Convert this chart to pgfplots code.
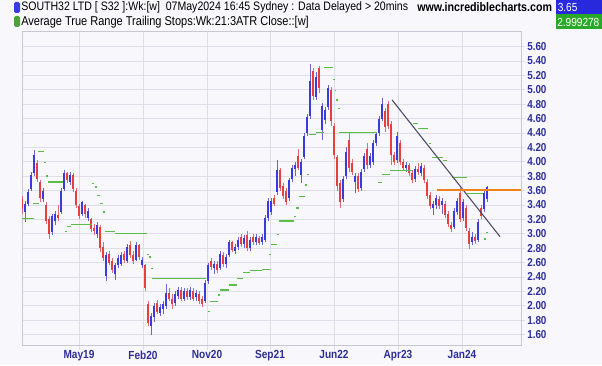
\documentclass[border=0pt]{standalone}
\usepackage{pgfplots}
\usepackage{pgfplotstable}
\pgfplotsset{compat=1.18}
\usepackage{fontspec}
\setmainfont{Liberation Sans}[FakeStretch=0.86]
\definecolor{pagebg}{RGB}{248,248,252}
\definecolor{gridc}{RGB}{222,222,232}
\definecolor{borderc}{RGB}{200,200,212}
\definecolor{navy}{RGB}{45,45,150}
\definecolor{cblue}{RGB}{58,58,225}
\definecolor{cred}{RGB}{232,62,62}
\definecolor{wblue}{RGB}{110,100,200}
\definecolor{wred}{RGB}{215,110,120}
\definecolor{stopg}{RGB}{90,190,70}
\definecolor{trendc}{RGB}{75,75,105}
\definecolor{orng}{RGB}{240,130,30}
\definecolor{boxblue}{RGB}{40,40,220}
\definecolor{boxgreen}{RGB}{40,170,40}

\pgfplotstableread{
x o h l c
25 3.30 3.45 3.16 3.42
28 3.42 3.62 3.38 3.58
31 3.62 3.86 3.60 3.82
34 3.85 4.16 3.80 4.10
43 3.48 3.64 3.44 3.60
52 3.03 3.28 2.98 3.24
55 3.18 3.32 3.12 3.28
61 3.30 3.64 3.28 3.60
64 3.62 3.88 3.60 3.84
70 3.72 3.86 3.68 3.82
82 3.28 3.46 3.25 3.44
88 3.22 3.36 3.18 3.32
97 3.00 3.16 2.94 3.12
106 2.42 2.74 2.34 2.70
115 2.44 2.60 2.36 2.56
118 2.56 2.70 2.52 2.66
121 2.58 2.74 2.55 2.70
127 2.62 2.86 2.60 2.82
136 2.64 2.88 2.62 2.84
142 2.56 2.68 2.52 2.64
151 1.72 1.90 1.60 1.86
154 1.84 2.04 1.78 2.00
160 1.90 2.02 1.86 1.98
163 1.96 2.06 1.88 2.02
166 2.00 2.30 1.96 2.18
175 2.04 2.20 2.00 2.16
178 2.14 2.26 2.10 2.22
184 2.10 2.24 2.06 2.20
190 2.12 2.26 2.08 2.22
196 2.12 2.22 2.06 2.18
205 2.06 2.36 2.04 2.32
208 2.34 2.60 2.30 2.56
214 2.52 2.62 2.44 2.58
220 2.52 2.76 2.50 2.72
226 2.58 2.72 2.52 2.68
229 2.70 2.92 2.68 2.88
235 2.76 2.86 2.72 2.82
238 2.82 2.96 2.78 2.92
244 2.86 2.98 2.80 2.94
250 2.80 2.96 2.76 2.92
256 2.88 3.00 2.84 2.96
262 2.88 3.00 2.84 2.96
265 2.92 3.26 2.88 3.22
268 3.22 3.50 3.18 3.46
271 3.30 3.50 3.26 3.46
277 3.58 4.03 3.54 3.88
289 3.50 3.78 3.46 3.74
292 3.76 3.96 3.72 3.92
295 3.90 4.00 3.80 3.96
301 3.82 4.04 3.70 4.00
304 4.06 4.40 4.04 4.36
307 4.40 4.66 4.36 4.62
310 4.64 5.36 4.60 5.12
316 4.90 5.24 4.86 5.18
322 4.44 4.82 4.30 4.78
325 4.58 4.76 4.52 4.72
328 4.76 5.06 4.72 5.02
343 3.48 3.80 3.44 3.76
346 3.80 4.20 3.76 4.14
355 3.72 3.84 3.56 3.80
361 3.64 3.90 3.60 3.86
364 3.90 4.12 3.86 4.08
370 3.96 4.12 3.92 4.08
373 4.00 4.30 3.96 4.26
376 4.26 4.42 4.22 4.38
379 4.40 4.64 4.36 4.60
382 4.60 4.89 4.56 4.80
397 4.02 4.42 3.98 4.36
406 3.92 4.00 3.86 3.96
415 3.76 3.94 3.72 3.90
421 3.84 3.98 3.80 3.94
433 3.36 3.46 3.26 3.42
436 3.40 3.54 3.34 3.50
442 3.40 3.50 3.28 3.46
454 3.10 3.36 3.06 3.32
457 3.30 3.50 3.26 3.46
463 3.22 3.48 3.18 3.44
472 2.88 3.02 2.84 2.96
478 2.92 3.20 2.88 3.16
484 3.34 3.60 3.30 3.56
487 3.48 3.66 3.44 3.65
}\up

\pgfplotstableread{
x o h l c
22 3.48 3.52 3.28 3.35
37 3.98 4.02 3.72 3.76
40 3.72 3.75 3.44 3.50
46 3.40 3.44 3.14 3.18
49 3.20 3.24 2.93 3.00
58 3.26 3.40 3.18 3.22
67 3.84 3.86 3.70 3.74
73 3.82 3.84 3.58 3.62
76 3.60 3.64 3.36 3.40
79 3.38 3.42 3.20 3.24
85 3.40 3.42 3.22 3.28
91 3.20 3.22 3.02 3.06
94 3.08 3.14 2.98 3.04
100 3.10 3.12 2.75 2.80
103 2.82 2.88 2.62 2.66
109 2.72 2.76 2.56 2.60
112 2.62 2.66 2.46 2.50
124 2.72 2.76 2.60 2.63
130 2.84 2.90 2.66 2.70
133 2.70 2.76 2.58 2.62
139 2.84 2.86 2.64 2.68
145 2.56 2.58 2.20 2.24
148 2.02 2.06 1.72 1.76
157 2.04 2.08 1.88 1.92
169 2.18 2.24 2.06 2.10
172 2.10 2.16 1.96 2.02
181 2.22 2.26 2.06 2.10
187 2.20 2.24 2.08 2.12
193 2.20 2.24 2.06 2.10
199 2.16 2.20 2.02 2.06
202 2.10 2.14 1.98 2.02
211 2.62 2.66 2.50 2.54
217 2.58 2.62 2.46 2.50
223 2.70 2.74 2.54 2.58
232 2.88 2.90 2.74 2.78
241 2.96 3.00 2.82 2.86
247 2.98 3.04 2.76 2.80
253 2.96 2.99 2.84 2.88
259 2.94 2.97 2.84 2.87
274 3.50 3.54 3.38 3.42
280 3.88 3.92 3.60 3.64
283 3.66 3.70 3.48 3.52
286 3.60 3.64 3.40 3.44
298 4.08 4.18 3.88 3.92
313 5.26 5.30 4.86 4.92
319 5.30 5.33 4.96 5.02
331 5.00 5.04 4.50 4.56
334 4.50 4.54 4.04 4.10
337 4.06 4.10 3.60 3.66
340 3.70 3.74 3.36 3.44
349 4.30 4.42 3.86 3.92
352 3.98 4.04 3.82 3.86
358 3.80 3.84 3.58 3.62
367 4.18 4.26 3.90 3.96
385 4.70 4.74 4.42 4.48
388 4.80 4.84 4.46 4.50
391 4.52 4.56 3.96 4.10
394 4.10 4.14 3.96 4.00
400 4.26 4.30 3.96 4.00
403 4.00 4.04 3.88 3.92
409 3.96 3.98 3.80 3.84
412 3.84 3.88 3.70 3.74
418 3.90 3.98 3.82 3.86
424 3.92 3.96 3.70 3.74
427 3.72 3.76 3.48 3.52
430 3.54 3.58 3.34 3.38
439 3.48 3.52 3.34 3.38
445 3.42 3.46 3.22 3.26
448 3.28 3.32 3.10 3.14
451 3.12 3.16 3.03 3.07
460 3.56 3.63 3.16 3.20
466 3.36 3.40 3.04 3.08
469 3.04 3.08 2.79 2.86
475 2.96 3.00 2.86 2.90
481 3.36 3.40 3.20 3.24
}\dn

\pgfplotstableread{
x y w
21 3.21 13
33 3.42 6
38 4.14 6
44 3.99 1.5
46 3.80 1.5
48 3.72 15
65 3.03 2
67 3.10 4
71 3.13 21
92 3.70 2
95 3.65 2
97 3.53 3
100 3.42 3
103 3.30 2
105 3.03 10
115 3.00 32
147 2.71 1.5
149 2.68 2
151 2.52 1.5
152 2.38 54
208 1.92 1.5
210 2.06 8
218 2.15 2
220 2.22 9
229 2.29 8
237 2.38 6
243 2.46 7
250 2.49 12
262 2.50 8
269 2.71 2
271 2.85 6
277 2.99 1.5
279 3.18 15
294 3.24 2
296 3.36 3
299 3.52 6
305 3.68 2
307 3.82 1.5
309 4.38 7
316 4.41 8
324 5.31 9
333 5.14 1.5
334.5 4.99 1.5
336 4.86 1.5
338 4.74 1.5
339 4.41 38
378 3.71 4
382 3.82 8
390 3.88 22
413 4.53 5
418 4.46 10
429 4.25 2
432 4.06 11
443 4.02 4
452 3.78 15
467 3.56 16
484 2.93 2
486 3.02 2
}\stops

\begin{document}
\begin{tikzpicture}[x=0.75pt,y=0.75pt]
\useasboundingbox (0,0) rectangle (602,365);
\fill[pagebg] (0,0) rectangle (602,365);
\begin{axis}[
  at={(22,27)}, anchor=south west,
  scale only axis, width=374.25pt, height=235.5pt,
  xmin=22, xmax=521, ymin=1.4472, ymax=5.8083,
  axis background/.style={fill=pagebg},
  axis line style={draw=borderc, line width=0.5pt},
  xtick={79,143,207,270,334,398,462},
  xticklabels={May19,Feb20,Nov20,Sep21,Jun22,Apr23,Jan24},
  ytick={1.6,1.8,2.0,2.2,2.4,2.6,2.8,3.0,3.2,3.4,3.6,3.8,4.0,4.2,4.4,4.6,4.8,5.0,5.2,5.4,5.6},
  yticklabels={1.60,1.80,2.00,2.20,2.40,2.60,2.80,3.00,3.20,3.40,3.60,3.80,4.00,4.20,4.40,4.60,4.80,5.00,5.20,5.40,5.60},
  yticklabel pos=right,
  grid=major, major grid style={draw=gridc, line width=0.6pt},
  tick align=outside, major tick length=3pt,
  tick style={draw=gridc, line width=0.6pt},
  xtick pos=bottom, ytick pos=right,
  yticklabel style={font=\bfseries\fontsize{8.6}{10}\selectfont, text=navy, anchor=west, inner sep=0pt, xshift=1.5pt},
  xticklabel style={font=\bfseries\fontsize{8.8}{10}\selectfont, text=navy, anchor=north, inner sep=0pt, yshift=-0.5pt},
]
\addplot[draw=wblue, line width=0.65pt, quiver={u=0, v=\thisrow{h}-\thisrow{l}}] table[x=x, y=l] {\up};
\addplot[draw=wred, line width=0.65pt, quiver={u=0, v=\thisrow{h}-\thisrow{l}}] table[x=x, y=l] {\dn};
\addplot[draw=cblue, line width=2pt, quiver={u=0, v=\thisrow{c}-\thisrow{o}}] table[x=x, y=o] {\up};
\addplot[draw=cred, line width=2pt, quiver={u=0, v=\thisrow{c}-\thisrow{o}}] table[x=x, y=o] {\dn};
\addplot[draw=stopg, line width=1.1pt, quiver={u=\thisrow{w}, v=0}] table[x=x, y=y] {\stops};
\addplot[draw=trendc, line width=0.8pt, mark=none] coordinates {(392,4.86) (500,2.96)};
\addplot[draw=orng, line width=1.5pt, mark=none] coordinates {(437,3.61) (521,3.61)};
\end{axis}
\fill[cblue, rounded corners=1.2pt] (14,352) rectangle (20,363);
\fill[stopg!85!black, rounded corners=1.2pt] (14,338) rectangle (20,349);
\node[anchor=west, inner sep=0pt, font=\fontsize{9.2}{10}\selectfont] at (21,357.5) {SOUTH32 LTD [ S32 ]:Wk:[w]\ \ 07May2024 16:45 Sydney : Data Delayed > 20mins};
\node[anchor=west, inner sep=0pt, font=\fontsize{9.6}{10}\selectfont] at (21,343) {Average True Range Trailing Stops:Wk:21:3ATR Close::[w]};
\node[anchor=west, inner sep=0pt, font=\bfseries\fontsize{9.3}{10}\selectfont] at (417,357.5) {www.incrediblecharts.com};
\fill[boxblue] (556,350.5) rectangle (602,365);
\fill[boxgreen] (556,336) rectangle (602,350.5);
\node[anchor=west, inner sep=0pt, text=white, font=\fontsize{8.8}{10}\selectfont] at (557.5,357.5) {3.65};
\node[anchor=west, inner sep=0pt, text=white, font=\fontsize{8.8}{10}\selectfont] at (557,343) {2.999278};
\end{tikzpicture}
\end{document}
